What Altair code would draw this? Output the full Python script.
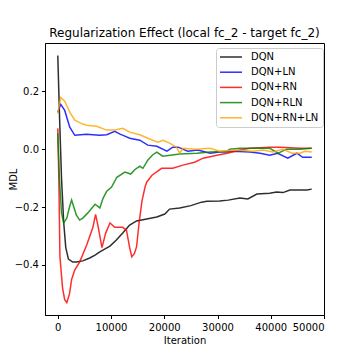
import altair as alt
import pandas as pd

series_names = ["DQN", "DQN+LN", "DQN+RN", "DQN+RLN", "DQN+RN+LN"]
series_colors = ["#000000", "#0000ff", "#ff0000", "#008000", "#ffa500"]

dqn_it = [0, 350, 700, 1100, 1500, 2000, 2800, 3500, 4700, 6000, 7000, 7900, 8800, 9800, 11000,
          12200, 13500, 14800, 16700, 18600, 20100, 21000, 22900, 25000, 27000, 28000, 30400,
          32000, 34200, 35700, 37400, 39800, 41100, 42300, 43600, 46800, 47700]
dqn_val = [0.324, 0.1, -0.1, -0.25, -0.34, -0.38, -0.39, -0.39, -0.386, -0.376, -0.366, -0.355,
           -0.345, -0.335, -0.314, -0.29, -0.262, -0.248, -0.241, -0.234, -0.224, -0.207, -0.203,
           -0.195, -0.183, -0.18, -0.179, -0.176, -0.169, -0.172, -0.155, -0.152, -0.148, -0.15,
           -0.141, -0.141, -0.138]

ln_it = [0, 560, 1300, 2250, 3200, 4300, 5400, 6600, 7900, 9200, 10700, 11700, 12600, 13500,
         15400, 16900, 18600, 20500, 21600, 22600, 24400, 26300, 28600, 30400, 31800, 33000,
         36100, 38000, 39800, 41300, 43200, 44900, 46000, 47700]
ln_val = [0.128, 0.155, 0.134, 0.076, 0.048, 0.05, 0.052, 0.05, 0.048, 0.05, 0.062, 0.052, 0.045,
          0.038, 0.031, 0.014, 0.01, -0.007, 0.007, 0.007, -0.007, -0.003, -0.014, -0.01, -0.01,
          -0.007, -0.01, -0.014, -0.021, -0.014, -0.031, -0.014, -0.028, -0.028]

rn_it = [0, 200, 400, 900, 1300, 1700, 2200, 2600, 3200, 4100, 5450, 6600, 7100, 7500, 8300, 9000,
         9800, 10700, 12200, 12900, 13500, 13900, 14400, 14800, 15300, 15800, 16400, 16700, 17700,
         19500, 21600, 23500, 25700, 27300, 29900, 31800, 34200, 36100, 39800, 41700, 45500, 47700]
rn_val = [0.072, -0.1, -0.37, -0.48, -0.52, -0.53, -0.5, -0.45, -0.417, -0.39, -0.33, -0.27, -0.225,
          -0.26, -0.34, -0.29, -0.255, -0.27, -0.27, -0.28, -0.34, -0.372, -0.36, -0.337, -0.25,
          -0.18, -0.13, -0.114, -0.09, -0.066, -0.066, -0.055, -0.045, -0.031, -0.021, -0.014,
          -0.003, 0.003, 0.007, 0.007, 0.003, 0.003]

rln_it = [0, 300, 700, 1100, 1700, 2200, 2600, 3000, 3500, 4100, 4700, 5600, 7000, 7900, 8500,
          9200, 10100, 11100, 12600, 13700, 14500, 15400, 16000, 16900, 17800, 18600, 19700,
          22900, 26100, 28600, 31800, 32300, 34200, 36700, 39800, 41400, 43000, 45500, 47700]
rln_val = [0.055, -0.1, -0.22, -0.255, -0.238, -0.2, -0.176, -0.2, -0.228, -0.245, -0.238, -0.221,
           -0.19, -0.203, -0.17, -0.145, -0.131, -0.097, -0.079, -0.086, -0.07, -0.059, -0.066,
           -0.038, -0.02, -0.01, -0.024, -0.017, -0.014, -0.01, -0.007, 0.0, 0.003, 0.003, 0.003,
           -0.014, 0.0, 0.0, 0.003]

rnln_it = [0, 560, 1300, 2250, 3200, 4300, 5400, 7300, 9200, 10700, 12200, 13500, 15400, 16900,
           18800, 19800, 21000, 22300, 22900, 23500, 26100, 28600, 30400, 33500, 36700, 38600,
           40400, 42300, 44000, 45500, 46400, 47700]
rnln_val = [0.124, 0.179, 0.166, 0.128, 0.1, 0.09, 0.083, 0.079, 0.066, 0.066, 0.072, 0.059, 0.05,
            0.038, 0.024, 0.031, 0.021, 0.007, -0.014, 0.003, 0.0, 0.003, -0.007, -0.003, -0.007,
            -0.003, -0.01, 0.0, -0.014, -0.014, -0.007, -0.01]

x_ticks = [0, 10000, 20000, 30000, 40000, 50000]
y_ticks = [-0.4, -0.2, 0.0, 0.2]

rows = []
for name, its, vals in zip(series_names,
                           [dqn_it, ln_it, rn_it, rln_it, rnln_it],
                           [dqn_val, ln_val, rn_val, rln_val, rnln_val]):
    for i, (a, b) in enumerate(zip(its, vals)):
        rows.append({"series": name, "iteration": a, "mdl": b, "idx": i})
df = pd.DataFrame(rows)

font = "DejaVu Sans"

chart = alt.Chart(df).mark_line(strokeWidth=1.5, opacity=0.82).encode(
    x=alt.X("iteration:Q", title="Iteration",
            scale=alt.Scale(domain=[-2400, 50000], nice=False, zero=False),
            axis=alt.Axis(values=x_ticks, format="d", grid=False, labelPadding=3.5,
                          titlePadding=3)),
    y=alt.Y("mdl:Q", title="MDL",
            scale=alt.Scale(domain=[-0.573, 0.367], nice=False, zero=False),
            axis=alt.Axis(values=y_ticks, format=".1f", grid=False, labelPadding=3,
                          titleX=-29, titleBaseline="alphabetic")),
    color=alt.Color("series:N", sort=series_names,
                    scale=alt.Scale(domain=series_names, range=series_colors),
                    legend=alt.Legend(title=None, orient="none", legendX=171, legendY=5,
                                      padding=4, strokeColor="#cccccc", fillColor="white",
                                      cornerRadius=3, symbolType="M-2.75,0H2.75", symbolSize=64,
                                      symbolStrokeWidth=1.5, symbolOpacity=0.82,
                                      symbolOffset=6, labelOffset=15,
                                      labelFontSize=10, labelFont=font,
                                      labelColor="black", rowPadding=5.2, labelLimit=200)),
    order="idx:Q",
).properties(
    width=279, height=272,
    title=alt.Title("Regularization Effect (local fc_2 - target fc_2)", fontSize=12,
                    font=font, fontWeight="normal", color="black", offset=3),
    autosize=alt.AutoSizeParams(type="none"),
    padding={"left": 37, "top": 35, "right": 20, "bottom": 30},
).configure_view(
    stroke="black", strokeWidth=1
).configure_axis(
    domainColor="black", tickColor="black", tickSize=3.5, labelFontSize=10,
    labelFont=font, titleFont=font, titleFontSize=10, titleFontWeight="normal",
    labelColor="black", titleColor="black"
)

chart.save("out.html", embed_options={"renderer": "svg", "actions": False})
